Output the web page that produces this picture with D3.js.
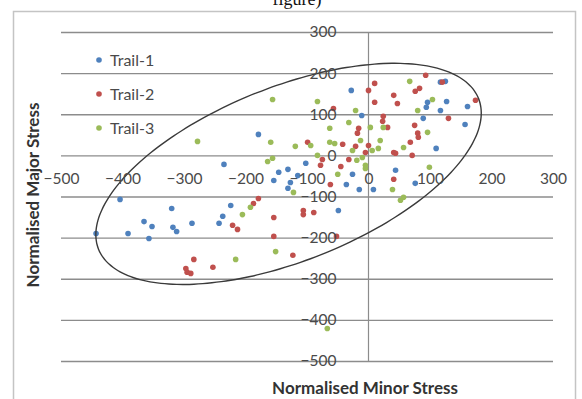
<!DOCTYPE html>
<html>
<head>
<meta charset="utf-8">
<script src="https://cdn.jsdelivr.net/npm/d3@7"></script>
<style>
  body { margin: 0; background: #fff; }
  svg { display: block; }
  .tick text { font-family: Lato, "Open Sans", sans-serif; font-size: 15.5px; fill: #4a4a4a; }
</style>
</head>
<body>
<div id="canvas"></div>
<script>
// values (Normalised Minor Stress, Normalised Major Stress)
const trail1X = [-404, -443, -391, -365, -352, -357, -320, -318, -312, -287, -224, -237, -243, -235, -179, -146, -131, -154, -127, -131, -115, -102, -26, -36, -15, 8, -49, -11, -28, 44, 76, 117, 125, 161, 127, 117, 96, 94, 89, 157, 110];
const trail1Y = [-107, -190, -190, -161, -173, -202, -129, -175, -185, -165, -122, -148, -165, -22, 51, -41, -34, -61, -66, -80, -49, -19, -46, -71, -83, -83, -134, 97, 158, -36, -68, 178, 180, 119, 131, 109, 129, 117, 90, 75, 17];

const trail2X = [-284, -297, -295, -289, -253, -221, -213, -187, -179, -154, -154, -123, -106, -106, -89, -52, -62, -99, -75, -78, -42, -21, -32, -45, -57, -16, -18, 0, 10, 10, 41, 47, 93, 76, 83, 120, 174, 130, 75, 80, 81, 68, 71, 41, 44, 31, 24, 23, 0, -5, 41];
const trail2Y = [-253, -275, -284, -287, -272, -170, -180, -117, -105, -151, -197, -243, -134, -144, -139, -197, -71, 32, -10, -24, 27, 22, -10, -27, 114, 66, 54, 158, 175, 129, 146, 126, 195, 156, 163, 178, 134, 90, 73, 54, 44, 32, 0, 7, 5, 68, 95, 83, 24, 7, -58];

const trail3X = [-216, -205, -192, -151, -278, -156, -159, -119, -164, -156, -94, -83, -63, -55, -32, -63, -50, -122, -83, -21, 3, 67, 104, 80, 96, 57, 99, 19, 16, -10, -5, -5, 39, 52, 57, -67, -13, 6, 24, -19, -26];
const trail3Y = [-253, -144, -126, -234, 34, 136, 32, 22, -15, -7, 24, 0, 32, 29, 80, 66, -46, -90, 131, 109, 68, 180, 136, 109, 56, 19, -29, 36, 17, -5, -24, -32, -83, -109, -102, -421, 36, 12, 68, -12, 12];

const seriesNames = ["Trail-1", "Trail-2", "Trail-3"];
const seriesColors = ["#4f81bd", "#c0504d", "#9bbb59"];
const tickValues = [-500, -400, -300, -200, -100, 0, 100, 200, 300];

// ellipse drawn round the points: centre and two conjugate half-axes, in data units
const ellipseCentre = [-130, -45];
const ellipseAxisU = [309, 183];
const ellipseAxisV = [52, -197];

const width = 582;
const height = 399;

const svg = d3.select("#canvas").append("svg")
    .attr("width", width)
    .attr("height", height);

const x = d3.scaleLinear().domain([-500, 300]).range([61, 553]);
const y = d3.scaleLinear().domain([-500, 300]).range([361, 32]);

// page text cut off above the chart
svg.append("text")
    .attr("x", 297)
    .attr("y", 5)
    .attr("text-anchor", "middle")
    .style("font-family", "'Liberation Serif', serif")
    .style("font-size", "18px")
    .attr("fill", "#111")
    .text("figure)");

// chart frame
svg.append("rect")
    .attr("x", 13.5)
    .attr("y", 11.5)
    .attr("width", 562)
    .attr("height", 400)
    .attr("fill", "none")
    .attr("stroke", "#c4c4c4")
    .attr("stroke-width", 1.5);

// horizontal gridlines
svg.append("g")
    .attr("class", "grid")
    .attr("transform", `translate(${x(-500)}, 0)`)
    .call(d3.axisLeft(y).tickValues(tickValues).tickSize(-(x(300) - x(-500))).tickFormat(""))
    .call(g => g.select(".domain").remove())
    .call(g => g.selectAll("line").attr("stroke", "#8c8c8c").attr("stroke-width", 1.3));

// vertical axis line
svg.append("line")
    .attr("x1", x(0)).attr("x2", x(0))
    .attr("y1", y(300)).attr("y2", y(-500))
    .attr("stroke", "#8c8c8c")
    .attr("stroke-width", 1.2);

const rows = [
    trail1X.map((v, i) => ({x: v, y: trail1Y[i], s: 0})),
    trail2X.map((v, i) => ({x: v, y: trail2Y[i], s: 1})),
    trail3X.map((v, i) => ({x: v, y: trail3Y[i], s: 2}))
];

rows.forEach(pts => {
    svg.append("g").selectAll("circle").data(pts)
        .enter().append("circle")
        .attr("cx", d => x(d.x))
        .attr("cy", d => y(d.y))
        .attr("r", 2.8)
        .attr("fill", d => seriesColors[d.s]);
});

// ellipse
const angles = d3.range(0, 360, 3).map(a => a * Math.PI / 180);
const ellipsePts = angles.map(t => [
    ellipseCentre[0] + ellipseAxisU[0] * Math.cos(t) + ellipseAxisV[0] * Math.sin(t),
    ellipseCentre[1] + ellipseAxisU[1] * Math.cos(t) + ellipseAxisV[1] * Math.sin(t)
]);
svg.append("path")
    .attr("d", d3.line().x(d => x(d[0])).y(d => y(d[1])).curve(d3.curveCardinalClosed)(ellipsePts))
    .attr("fill", "none")
    .attr("stroke", "#3a3a3a")
    .attr("stroke-width", 1.4);

// axes labels
svg.append("g")
    .attr("transform", `translate(0, ${y(0)})`)
    .call(d3.axisBottom(x).tickValues(tickValues).tickSize(0).tickPadding(18))
    .call(g => g.select(".domain").remove());

svg.append("g")
    .attr("transform", `translate(${x(0)}, 0)`)
    .call(d3.axisLeft(y).tickValues(tickValues).tickSize(0).tickPadding(32))
    .call(g => g.select(".domain").remove());

// legend
const legend = svg.append("g").selectAll("g").data(seriesNames)
    .enter().append("g")
    .attr("transform", (d, i) => `translate(99, ${60 + i * 34})`);
legend.append("circle")
    .attr("r", 2.8)
    .attr("fill", (d, i) => seriesColors[i]);
legend.append("text")
    .attr("x", 11)
    .attr("dy", "0.35em")
    .style("font-family", "Lato, 'Open Sans', sans-serif")
    .style("font-size", "16px")
    .attr("fill", "#4a4a4a")
    .text(d => d);

// axis titles
svg.append("text")
    .attr("x", 365)
    .attr("y", 394)
    .attr("text-anchor", "middle")
    .style("font-family", "Lato, 'Open Sans', sans-serif")
    .style("font-weight", "bold")
    .style("font-size", "17px")
    .attr("fill", "#333")
    .text("Normalised Minor Stress");

svg.append("text")
    .attr("transform", "translate(39, 195) rotate(-90)")
    .attr("text-anchor", "middle")
    .style("font-family", "Lato, 'Open Sans', sans-serif")
    .style("font-weight", "bold")
    .style("font-size", "17px")
    .attr("fill", "#333")
    .text("Normalised Major Stress");
</script>
</body>
</html>
